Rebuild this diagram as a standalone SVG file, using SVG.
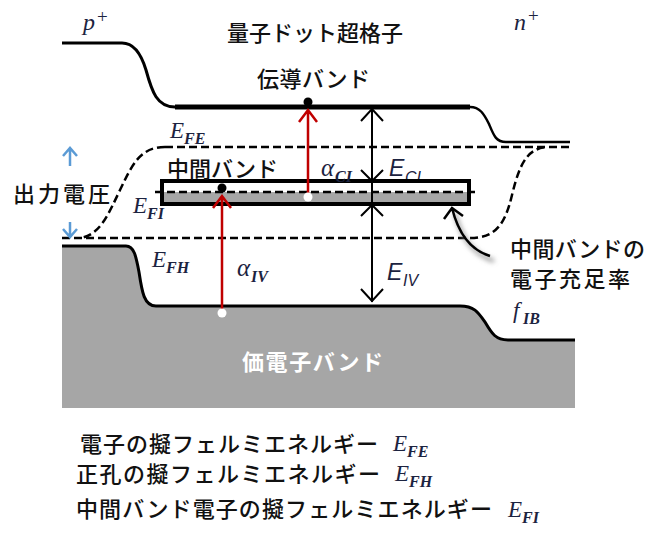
<svg xmlns="http://www.w3.org/2000/svg" width="648" height="536" viewBox="0 0 648 536">
<defs>
<style>
.jp{font-family:"Noto Sans CJK JP","Noto Sans CJK SC",sans-serif;fill:#111;font-size:22px;font-weight:500}
.m{font-family:"Liberation Serif","DejaVu Serif",serif;font-style:italic;fill:#1c2340;font-size:23px}
.ms{font-family:"Liberation Serif","DejaVu Serif",serif;font-style:italic;fill:#1c2340;font-size:16px;font-weight:bold}
.ss{font-family:"Liberation Sans","DejaVu Sans",sans-serif;font-style:italic;fill:#1c2340;font-size:23px}
.sss{font-family:"Liberation Sans","DejaVu Sans",sans-serif;font-style:italic;fill:#1c2340;font-size:16px}
.band{fill:none;stroke:#000;stroke-width:3}
.dash{fill:none;stroke:#000;stroke-width:2.5;stroke-dasharray:8 4}
.red{fill:none;stroke:#c00000;stroke-width:2.5}
.blk{fill:none;stroke:#000;stroke-width:2}
.blue{fill:none;stroke:#5b9bd5;stroke-width:2.5}
</style>
<filter id="sh" x="-50%" y="-50%" width="200%" height="200%">
<feGaussianBlur stdDeviation="2.5"/>
</filter>
</defs>
<rect width="648" height="536" fill="#fff"/>

<g id="valence-band">
<path d="M62,246 H126 C134,246 136,256 139,272 C142,292 144,306 156,306 H460 C474,306 478,312 485,322 C492,334 496,340 508,340 H575 V408 H62 Z" fill="#a6a6a6"/>
<path class="band" d="M62,246 H126 C134,246 136,256 139,272 C142,292 144,306 156,306 H460 C474,306 478,312 485,322 C492,334 496,340 508,340 H575"/>
<text x="242" y="370" class="jp" style="fill:#fff;font-weight:bold;font-size:22px" textLength="141">価電子バンド</text>
</g>

<g id="conduction-band">
<path class="band" d="M62,43 H122 C132,43 140,50 146,70 C152,92 157,107 175,107"/>
<path d="M175,107 H470" stroke="#000" stroke-width="5" fill="none"/>
<path class="band" style="stroke-width:2.5" d="M470,107 C480,107 484,114 489,124 C494,136 496,142 506,142 H570"/>
<text x="257" y="87" class="jp" textLength="113">伝導バンド</text>
</g>

<g id="quasi-fermi-levels">
<path class="dash" d="M165,147 H570"/>
<path class="dash" d="M165,147 C140,147 132,165 120,190 C108,215 100,235 80,238"/>
<path class="dash" d="M62,238 H470"/>
<path class="dash" d="M470,238 C495,238 505,225 512,195 C520,162 528,148 548,147"/>
</g>

<g id="labels-top">
<text x="83" y="30" class="m" style="font-size:24px">p</text>
<text x="97" y="23" class="m" style="font-size:19px;font-style:normal">+</text>
<text x="514" y="30" class="m" style="font-size:24px">n</text>
<text x="528" y="22" class="m" style="font-size:19px;font-style:normal">+</text>
<text x="227" y="41" class="jp" textLength="176">量子ドット超格子</text>
</g>

<g id="label-EFE"><text x="170" y="138" class="m">E</text><text x="184" y="144" class="ms">FE</text></g>
<g id="label-ECI"><text x="389" y="176" class="ss">E</text><text x="405" y="183" class="sss">CI</text></g>

<g id="intermediate-band">
<rect x="162" y="181" width="307" height="23" fill="#fff"/>
<rect x="162" y="192" width="307" height="12" fill="#a6a6a6"/>
<path class="dash" d="M155,192 H478"/>
<rect x="162" y="181" width="307" height="23" fill="none" stroke="#000" stroke-width="4"/>
<text x="167" y="177" class="jp" textLength="111">中間バンド</text>
</g>

<g id="label-EFI"><text x="133" y="213" class="m">E</text><text x="147" y="219" class="ms">FI</text></g>
<g id="label-EFH"><text x="152" y="267" class="m">E</text><text x="166" y="273" class="ms">FH</text></g>
<g id="label-aCI"><text x="321" y="176" class="m" style="font-size:25px">α</text><text x="335" y="182" class="ms">CI</text></g>
<g id="label-aIV"><text x="237" y="276" class="m" style="font-size:25px">α</text><text x="251" y="282" class="ms">IV</text></g>
<g id="label-EIV"><text x="387" y="280" class="ss">E</text><text x="403" y="286" class="sss">IV</text></g>

<g id="output-voltage">
<text x="13" y="202" class="jp" style="font-size:22px" textLength="97">出力電圧</text>
</g>

<g id="filling-label">
<text x="510" y="257" class="jp" textLength="135">中間バンドの</text>
<text x="510" y="287" class="jp" textLength="120">電子充足率</text>
<text x="513" y="318" class="m">f</text><text x="523" y="324" class="ms">IB</text>
</g>

<g id="connectors">
<path class="red" d="M222,310 V196 M213,208 L222,196 L231,208"/>
<path class="red" d="M308,195 V110 M299,122 L308,110 L317,122"/>
<path class="blk" d="M372,108 V302 M361,121 L372,109 L383,121 M361,170 L372,181 L383,170 M361,216 L372,205 L383,216 M361,289 L372,301 L383,289"/>
<path class="blue" d="M70,148 V166 M63,156 L70,148 L77,156"/>
<path class="blue" d="M70,222 V237 M63,229 L70,237 L77,229"/>
<path d="M492,258 C472,252 459,234 453,210" fill="none" stroke="#888" stroke-width="3" filter="url(#sh)" transform="translate(2,3)"/>
<path d="M490,256 C470,250 458,232 452,208 M444,219 L452,208 L463,216" fill="none" stroke="#000" stroke-width="2.5"/>
</g>

<g id="dots">
<circle cx="308" cy="102" r="4.5" fill="#000"/>
<circle cx="222" cy="188" r="4.5" fill="#000"/>
<circle cx="222" cy="313" r="4.5" fill="#fff"/>
<circle cx="308" cy="197" r="4.5" fill="#fff"/>
</g>

<g id="legend">
<text x="80" y="452" class="jp" textLength="298">電子の擬フェルミエネルギー</text>
<text x="393" y="451" class="m">E</text><text x="407" y="457" class="ms">FE</text>
<text x="76" y="482" class="jp" textLength="304">正孔の擬フェルミエネルギー</text>
<text x="395" y="481" class="m">E</text><text x="409" y="487" class="ms">FH</text>
<text x="76" y="517" class="jp" textLength="416">中間バンド電子の擬フェルミエネルギー</text>
<text x="508" y="517" class="m">E</text><text x="522" y="523" class="ms">FI</text>
</g>
</svg>
